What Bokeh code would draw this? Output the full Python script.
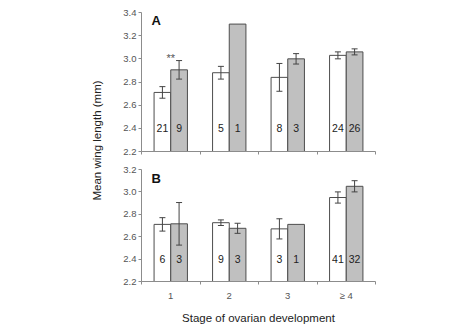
import math
from bokeh.plotting import figure
from bokeh.layouts import row, column
from bokeh.models import (ColumnDataSource, Whisker, TeeHead, FixedTicker, Label,
                          Range1d, NumeralTickFormatter)
from bokeh.embed import file_html
from bokeh.resources import INLINE

# ---- data ----
stages = ["1", "2", "3", "\u2265 4"]

a_white = [2.71, 2.88, 2.84, 3.03]
a_white_err = [0.05, 0.055, 0.12, 0.03]
a_grey = [2.905, 3.30, 3.00, 3.06]
a_grey_err = [0.08, None, 0.045, 0.026]
a_n_white = [21, 5, 8, 24]
a_n_grey = [9, 1, 3, 26]
a_signif = ["**", "", "", ""]

b_white = [2.71, 2.725, 2.67, 2.95]
b_white_err = [0.06, 0.025, 0.09, 0.05]
b_grey = [2.715, 2.675, 2.71, 3.05]
b_grey_err = [0.19, 0.045, None, 0.05]
b_n_white = [6, 9, 3, 41]
b_n_grey = [3, 3, 1, 32]
b_signif = ["", "", "", ""]

a_ticks = [2.2, 2.4, 2.6, 2.8, 3.0, 3.2, 3.4]
b_ticks = [2.2, 2.4, 2.6, 2.8, 3.0, 3.2]

FONT = "Liberation Sans"
AXIS_COL = "#8c8c8c"
TXT_COL = "#555555"
BAR_LINE = "#4d4d4d"
GREY = "#c0c0c0"
BW = 0.285
OFF = 0.1425


def panel(white, werr, grey, gerr, nw, ng, signif, ticks, height, top, bottom, letter,
          letter_y, show_xlabels, n_y=2.4):
    p = figure(width=365, height=height, x_range=Range1d(0, 4),
               y_range=Range1d(ticks[0], ticks[-1]),
               min_border_left=31, min_border_right=100, min_border_top=top,
               min_border_bottom=bottom, output_backend="svg", toolbar_location=None)
    p.grid.visible = False
    p.outline_line_color = None
    p.background_fill_color = "white"
    p.border_fill_color = "white"

    idx = list(range(len(stages)))
    xw = [i + 0.5 - OFF for i in idx]
    xg = [i + 0.5 + OFF for i in idx]
    base = ticks[0]
    p.vbar(x=xw, top=white, bottom=base, width=BW, fill_color="white",
           line_color=BAR_LINE, line_width=1)
    p.vbar(x=xg, top=grey, bottom=base, width=BW, fill_color=GREY,
           line_color=BAR_LINE, line_width=1)

    ex, lo, up = [], [], []
    for xs, vals, errs in ((xw, white, werr), (xg, grey, gerr)):
        for x, v, e in zip(xs, vals, errs):
            if e is not None:
                ex.append(x); lo.append(v - e); up.append(v + e)
    src = ColumnDataSource(dict(x=ex, lower=lo, upper=up))
    w = Whisker(base="x", lower="lower", upper="upper", source=src,
                line_color="#444444", line_width=1, level="annotation",
                upper_head=TeeHead(size=6, line_color="#444444", line_width=1),
                lower_head=TeeHead(size=6, line_color="#444444", line_width=1))
    p.add_layout(w)

    p.text(x=xw, y=[n_y] * 4, text=[str(n) for n in nw], text_align="center",
           text_baseline="middle", text_font_size="10.5px", text_color="#222222",
           text_font={"value": FONT})
    p.text(x=xg, y=[n_y] * 4, text=[str(n) for n in ng], text_align="center",
           text_baseline="middle", text_font_size="10.5px", text_color="#222222",
           text_font={"value": FONT})

    # significance marks above the pair (placed above the taller error bar)
    sx, sy, st = [], [], []
    for i, s in enumerate(signif):
        if s:
            tops = [white[i] + (werr[i] or 0), grey[i] + (gerr[i] or 0)]
            sx.append(i + 0.5); sy.append(max(tops) + 0.02); st.append(s)
    if st:
        p.text(x=sx, y=sy, text=st, text_align="center", text_baseline="middle",
               text_font_size="11px", text_color="#555555", text_font={"value": FONT})

    p.add_layout(Label(x=0.17, y=letter_y, text=letter, text_font=FONT,
                       text_font_size="13px", text_font_style="bold",
                       text_align="left", text_baseline="middle", text_color="#111111"))

    # y axis
    ya = p.yaxis[0]
    ya.ticker = FixedTicker(ticks=ticks)
    ya.formatter = NumeralTickFormatter(format="0.0")
    ya.axis_line_color = AXIS_COL
    ya.major_tick_line_color = AXIS_COL
    ya.major_tick_out = 3
    ya.major_tick_in = 0
    ya.minor_tick_out = 0
    ya.minor_tick_in = 0
    ya.major_label_standoff = 2
    ya.major_label_text_font = FONT
    ya.major_label_text_font_size = "9.5px"
    ya.major_label_text_color = TXT_COL

    xa = p.xaxis[0]
    xa.axis_line_color = AXIS_COL
    xa.major_tick_out = 0
    xa.major_tick_in = 0
    xa.minor_tick_out = 3
    xa.minor_tick_in = 0
    xa.minor_tick_line_color = AXIS_COL
    centers = [i + 0.5 for i in idx]
    if show_xlabels:
        xa.ticker = FixedTicker(ticks=centers, minor_ticks=[0, 1, 2, 3, 4])
        xa.major_label_overrides = {c: s for c, s in zip(centers, stages)}
        xa.major_label_standoff = 5
        xa.major_label_text_font = FONT
        xa.major_label_text_font_size = "9.5px"
        xa.major_label_text_color = TXT_COL
        xa.axis_label = "Stage of ovarian development"
        xa.axis_label_text_font = FONT
        xa.axis_label_text_font_size = "11.5px"
        xa.axis_label_text_font_style = "normal"
        xa.axis_label_text_color = "#222222"
        xa.axis_label_standoff = 8
    else:
        xa.ticker = FixedTicker(ticks=[], minor_ticks=[0, 1, 2, 3, 4])
        xa.major_label_text_font_size = "0px"
        for c, s in zip(centers, stages):
            p.add_layout(Label(x=c, y=ticks[0] - 0.048, text=s, text_font=FONT,
                               text_font_size="8.5px", text_color="#e6e6e6",
                               text_align="center", text_baseline="middle"))
    return p


# thin grey frame line across the top of the figure
strip = figure(width=475, height=2, min_border=0, x_axis_location=None,
               y_axis_location=None, output_backend="svg", toolbar_location=None)
strip.grid.visible = False
strip.outline_line_color = None
strip.background_fill_color = "#a0a0a0"
strip.border_fill_color = "#a0a0a0"

pa = panel(a_white, a_white_err, a_grey, a_grey_err, a_n_white, a_n_grey, a_signif,
           a_ticks, 160, 10, 11, "A", 3.335, False)
pb = panel(b_white, b_white_err, b_grey, b_grey_err, b_n_white, b_n_grey, b_signif,
           b_ticks, 164, 7, 42, "B", 3.12, True)

left = figure(width=110, height=324, x_range=Range1d(0, 110), y_range=Range1d(0, 324),
              min_border=0, x_axis_location=None, y_axis_location=None,
              output_backend="svg", toolbar_location=None)
left.grid.visible = False
left.outline_line_color = None
left.add_layout(Label(x=96.5, y=186, text="Mean wing length (mm)", angle=math.pi / 2,
                      text_font=FONT, text_font_size="11.5px", text_color="#222222",
                      text_align="center", text_baseline="middle"))

layout = column(strip, row(left, column(pa, pb, spacing=0), spacing=0), spacing=0)
open("out.html", "w").write(file_html(layout, INLINE))
